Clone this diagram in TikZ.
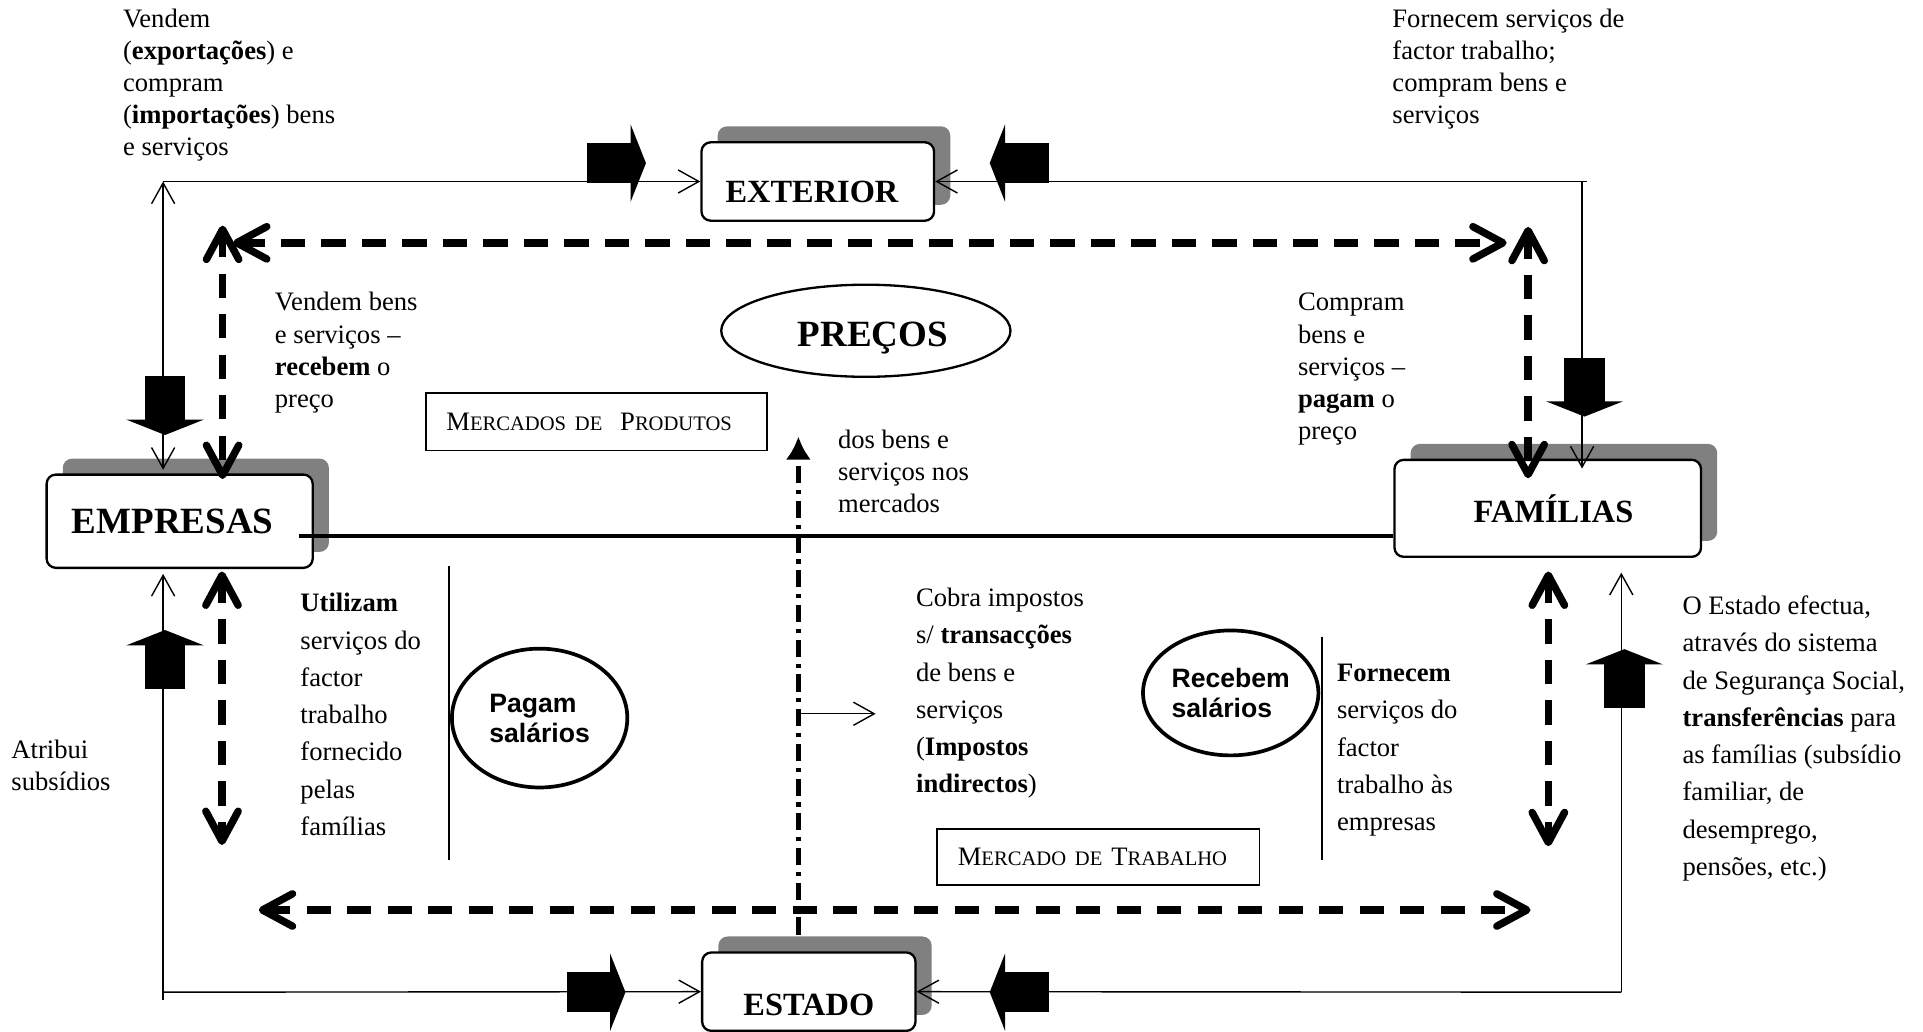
\documentclass[tikz,border=0pt]{standalone}
\usepackage{fontspec}
\setmainfont{Liberation Serif}
\newfontfamily\sansfnt{Liberation Sans}
\usetikzlibrary{arrows.meta,shapes.geometric,shadows,calc}
\definecolor{shad}{RGB}{128,128,128}
\newcommand\myfsc[2]{#1{\fontsize{8.9}{11}\selectfont #2}}
\tikzset{
  txt/.style={font=\fontsize{11.5}{13.9}\selectfont, align=left, inner sep=0pt, anchor=base west},
  txtw/.style={font=\fontsize{11.5}{16.1}\selectfont, align=left, inner sep=0pt, anchor=base west},
  agent/.style={draw, line width=1pt, rounded corners=4pt, fill=white,
    drop shadow={shadow xshift=7pt, shadow yshift=6.9pt, fill=shad, opacity=1}},
  mkt/.style={draw, line width=0.8pt, align=left, font=\fontsize{11.5}{13}\selectfont},
  oval/.style={draw, ellipse, inner sep=1pt},
  thinarr/.style={line width=0.6pt, -{Straight Barb[length=9pt,width=10pt]}},
  thinboth/.style={line width=0.6pt, {Straight Barb[length=9pt,width=10pt]}-{Straight Barb[length=9pt,width=10pt]}},
  dasharr/.style={line width=3.2pt, dash pattern=on 10.5pt off 7pt,
    {Straight Barb[length=13pt,width=14pt,round]}-{Straight Barb[length=13pt,width=14pt,round]}},
  dashdotarr/.style={line width=1.9pt, dash pattern=on 7.4pt off 2.9pt on 1.8pt off 2.9pt,
    -{Latex[length=10pt,width=11pt]}},
  blk/.pic={\fill (-48,-16.5) rectangle (-12,16.5); \fill (-12.5,-31.5) -- (0,0) -- (-12.5,31.5) -- cycle;}
}
\begin{document}
\begin{tikzpicture}[x=0.53pt,y=-0.53pt]
\useasboundingbox (0,0) rectangle (1568,841);

% agents
\node[agent, minimum width=100.5pt, minimum height=33.9pt, font=\bfseries\fontsize{14}{16}\selectfont] (ext) at (666.8,148) {\raisebox{-4.7pt}[\height][\depth]{\hspace*{-5pt}EXTERIOR}};
\node[agent, minimum width=115pt, minimum height=40.3pt, font=\bfseries\fontsize{16}{18}\selectfont] (emp) at (146.5,425) {\hspace*{-6pt}EMPRESAS};
\node[agent, minimum width=132.5pt, minimum height=41.9pt, font=\bfseries\fontsize{14}{16}\selectfont] (fam) at (1262,414.5) {\hspace*{5pt}FAMÍLIAS};
\node[agent, minimum width=92.2pt, minimum height=33.9pt, font=\bfseries\fontsize{14}{16}\selectfont] (est) at (659.5,808.6) {\raisebox{-5.8pt}[\height][\depth]{ESTADO}};

% ovals
\node[oval, line width=1pt, minimum width=125pt, minimum height=39.8pt, font=\bfseries\fontsize{16}{18}\selectfont] (pre) at (706,269.7) {\raisebox{-3.2pt}[\height][\depth]{\hspace*{6pt}PREÇOS}};
\node[oval, line width=1.6pt, minimum width=75.8pt, minimum height=60pt, align=left, font=\sansfnt\bfseries\fontsize{11.5}{13}\selectfont] (pag) at (440,585.5) {Pagam\\salários};
\node[oval, line width=1.6pt, minimum width=75.8pt, minimum height=54pt, align=left, font=\sansfnt\bfseries\fontsize{11.5}{13}\selectfont] (rec) at (1003.5,565) {Recebem\\salários};

% market boxes
\node[mkt, minimum height=24.8pt, text width=130pt, inner xsep=8.7pt] (mprod) at (486.6,344) {\myfsc{M}{ERCADOS DE\ \ }\myfsc{P}{RODUTOS}};
\node[mkt, minimum height=24.2pt, text width=121.4pt, inner xsep=9pt] (mtrab) at (895.5,698.8) {\myfsc{M}{ERCADO DE }\myfsc{T}{RABALHO}};

% texts (anchored at the baseline of their last line)
\node[txt] (ttl) at (100,127.2) {Vendem\\(\textbf{exportações}) e\\compram\\(\textbf{importações}) bens\\e serviços};
\node[txt] (ttr) at (1135,101) {Fornecem serviços de\\factor trabalho;\\compram bens e\\serviços};
\node[txt] (tvend) at (223.8,332.2) {Vendem bens\\e serviços –\\\textbf{recebem} o\\preço};
\node[txt] (tcomp) at (1058,358.4) {Compram\\bens e\\serviços –\\\textbf{pagam} o\\preço};
\node[txt] (tdos) at (683,418.1) {dos bens e\\serviços nos\\mercados};
\node[txtw] (tutil) at (244.6,681.1) {\textbf{Utilizam}\\serviços do\\factor\\trabalho\\fornecido\\pelas\\famílias};
\node[txtw] (tcobra) at (746.6,646.6) {Cobra impostos\\s/ \textbf{transacções}\\de bens e\\serviços\\(\textbf{Impostos}\\\textbf{indirectos})};
\node[txtw] (tforn) at (1089.8,677.3) {\textbf{Fornecem}\\serviços do\\factor\\trabalho às\\empresas};
\node[txtw] (test) at (1371.6,713.7) {O Estado efectua,\\através do sistema\\de Segurança Social,\\\textbf{transferências} para\\as famílias (subsídio\\familiar, de\\desemprego,\\pensões, etc.)};
\node[txt] (tatr) at (9,644.5) {Atribui\\subsídios};

% separators
\draw[line width=1pt] (366,461.5) -- (366,701);
\draw[line width=1pt] (1078,519) -- (1078,701);

% thick solid line
\coordinate (hl) at (244,437);
\draw[line width=1.7pt] (hl) -- (hl -| fam.west);

% thin flow lines
\coordinate (tl) at (133,148);
\coordinate (tr) at (1290,148);
\coordinate (bl) at (133,809);
\coordinate (br) at (1322,809);
\draw[line width=0.6pt] (tr) -- (1294,148);
\draw[thinarr] (tl) -- (ext.west);
\draw[thinarr] (tr) -- (ext.east);
\draw[thinboth] ($(tl |- emp.north)+(0,-3)$) -- (tl);
\draw[thinarr] (tr) -- ($(tr |- fam.north)+(0,8)$);
\draw[line width=0.6pt] (bl) -- (133,815);
\draw[thinarr] (bl) -- ($(bl |- emp.south)+(0,4)$);
\draw[thinarr] (bl) -- (est.west);
\draw[thinarr] (br) -- ($(br |- fam.south)+(0,12)$);
\draw[thinarr] (br) -- (est.east);

% block arrows
\pic at (526.7,133) {blk};
\pic[rotate=180] at (807,133) {blk};
\pic[rotate=-90] at (134.6,354.7) {blk};
\pic[rotate=90] at (134.6,513.7) {blk};
\pic[rotate=-90] at (1292,339.7) {blk};
\pic[rotate=90] at (1324.5,529.3) {blk};
\pic at (510,809) {blk};
\pic[rotate=180] at (807,809) {blk};

% dashed double arrows
\coordinate (dh1a) at (190,198);
\coordinate (dh1b) at (1228.5,198);
\coordinate (dv1a) at (181.5,184);
\coordinate (dv1b) at (181.5,390.6);
\coordinate (dv2a) at (1246,185);
\coordinate (dv2b) at (1246,390);
\coordinate (dv3a) at (181,466);
\coordinate (dv3b) at (181,689);
\coordinate (dv4a) at (1262.5,466);
\coordinate (dv4b) at (1262.5,690);
\coordinate (dh2a) at (211,742);
\coordinate (dh2b) at (1248,742);
\draw[dasharr] (dh1a) -- (dh1b);
\draw[dasharr] (dv1a) -- (dv1b);
\draw[dasharr] (dv2a) -- (dv2b);
\draw[dasharr] (dv3a) -- (dv3b);
\draw[dasharr] (dv4a) -- (dv4b);
\draw[dasharr] (dh2a) -- (dh2b);

% dash-dot arrow and branch
\coordinate (dd0) at (651,762);
\coordinate (dd1) at (651,356);
\coordinate (brs) at (651,582);
\coordinate (bre) at (714,582);
\draw[dashdotarr] (dd0) -- (dd1);
\draw[thinarr] (brs) -- (bre);
\end{tikzpicture}
\end{document}
